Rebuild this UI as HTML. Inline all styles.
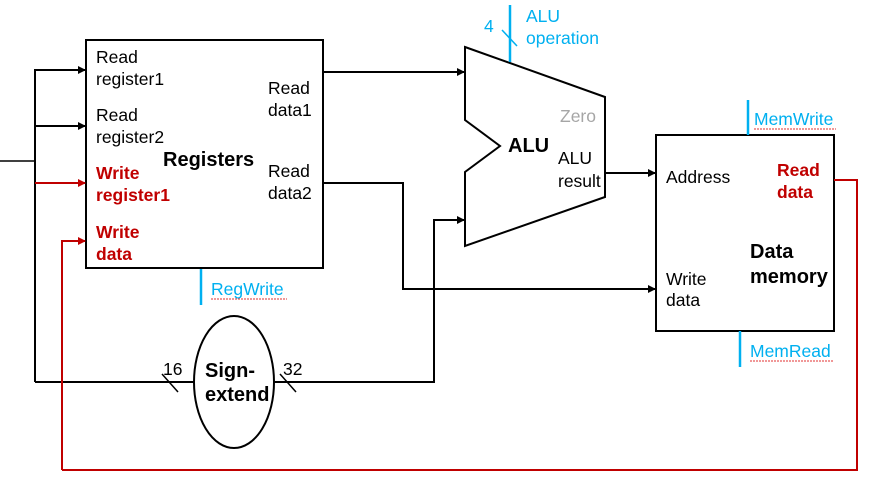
<!DOCTYPE html>
<html><head><style>body{margin:0;background:#fff}svg{display:block}text{font-family:"Liberation Sans",sans-serif;font-size:17.5px}.b{font-weight:bold;font-size:20px}</style></head><body>
<svg width="875" height="484" viewBox="0 0 875 484">
<defs><marker id="a" markerWidth="8" markerHeight="8" refX="7" refY="4" orient="auto" markerUnits="userSpaceOnUse"><path d="M0,0 L8,4 L0,8z" fill="#000"/></marker>
<marker id="r" markerWidth="8" markerHeight="8" refX="7" refY="4" orient="auto" markerUnits="userSpaceOnUse"><path d="M0,0 L8,4 L0,8z" fill="#c00000"/></marker></defs>
<g fill="none" stroke="#000" stroke-width="2">
<rect x="86" y="40" width="237" height="228"/>
<rect x="656" y="135" width="178" height="196"/>
<path d="M465,47 L605,97 L605,197 L465,246 L465,172 L500,146 L465,120 Z"/>
<ellipse cx="234" cy="382" rx="40" ry="66"/>
<path d="M0,161 L35,161" stroke-width="1.5"/>
<path d="M35,382 L35,70 L85,70" marker-end="url(#a)"/>
<path d="M35,126 L85,126" marker-end="url(#a)"/>
<path d="M35,382 L194,382"/>
<path d="M274,382 L434,382 L434,220 L464,220" marker-end="url(#a)"/>
<path d="M323,72 L464,72" marker-end="url(#a)"/>
<path d="M323,183 L403,183 L403,289 L655,289" marker-end="url(#a)"/>
<path d="M605,173 L655,173" marker-end="url(#a)"/>
<path d="M162,374 L178,392 M280,374 L296,392" stroke-width="1.5"/>
</g>
<g fill="none" stroke="#c00000" stroke-width="2">
<path d="M35,183 L85,183" marker-end="url(#r)"/>
<path d="M62,470 L62,241 L85,241" marker-end="url(#r)"/>
<path d="M834,180 L857,180 L857,470 L62,470"/>
</g>
<g stroke="#00b0f0" stroke-width="2.5" fill="none">
<path d="M510,5 L510,62"/><path d="M502,30 L517,46" stroke-width="1.5"/>
<path d="M201,269 L201,305"/>
<path d="M748,100 L748,135"/>
<path d="M740,331 L740,367"/>
</g>
<g fill="#000">
<text x="96" y="63">Read</text><text x="96" y="85">register1</text>
<text x="96" y="121">Read</text><text x="96" y="143">register2</text>
<text x="268" y="94">Read</text><text x="268" y="116">data1</text>
<text x="268" y="177">Read</text><text x="268" y="199">data2</text>
<text x="163" y="166" class="b">Registers</text>
<text x="508" y="152" class="b">ALU</text>
<text x="558" y="164">ALU</text><text x="558" y="187">result</text>
<text x="666" y="183">Address</text>
<text x="666" y="285">Write</text><text x="666" y="306">data</text>
<text x="750" y="258" class="b">Data</text>
<text x="750" y="283" class="b">memory</text>
<text x="205" y="377" class="b">Sign-</text>
<text x="205" y="401" class="b">extend</text>
<text x="163" y="375">16</text><text x="283" y="375">32</text>
</g>
<text x="560" y="122" fill="#a6a6a6">Zero</text>
<g fill="#c00000">
<text x="96" y="179" style="font-weight:bold">Write</text><text x="96" y="201" style="font-weight:bold">register1</text>
<text x="96" y="238" style="font-weight:bold">Write</text><text x="96" y="260" style="font-weight:bold">data</text>
<text x="777" y="176" style="font-weight:bold">Read</text><text x="777" y="198" style="font-weight:bold">data</text>
</g>
<g fill="#00b0f0">
<text x="484" y="32">4</text>
<text x="526" y="22">ALU</text><text x="526" y="44">operation</text>
<text x="211" y="295">RegWrite</text>
<text x="754" y="125">MemWrite</text>
<text x="750" y="357">MemRead</text>
</g>
<g stroke="#e03030" stroke-width="1" fill="none" stroke-dasharray="2,1">
<path d="M211,299 L287,299 M754,129 L836,129 M750,361 L833,361"/>
</g>
</svg>
</body></html>
